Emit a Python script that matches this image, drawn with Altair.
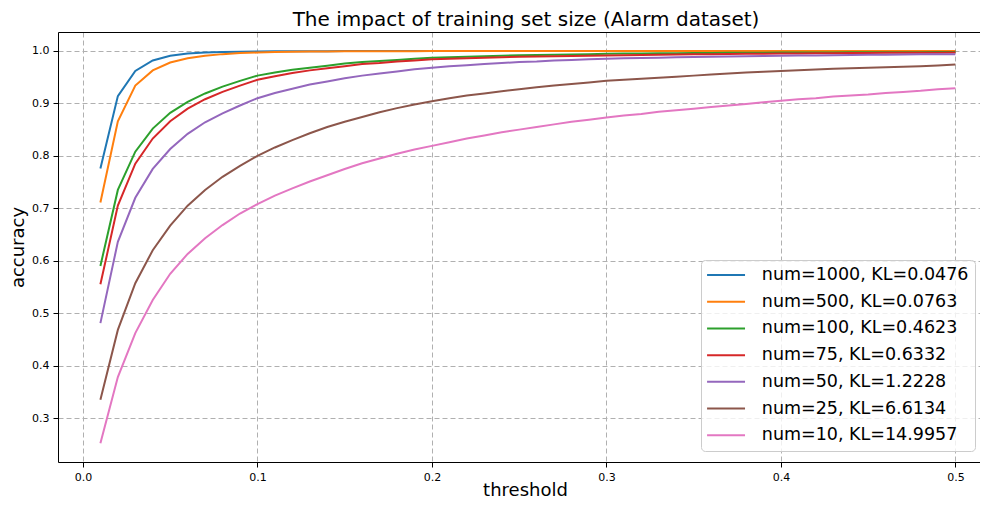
import altair as alt
import pandas as pd

thresholds = [0.01, 0.02, 0.03, 0.04, 0.05, 0.06, 0.07, 0.08, 0.09, 0.10,
              0.11, 0.12, 0.13, 0.14, 0.15, 0.16, 0.17, 0.18, 0.19, 0.20,
              0.21, 0.22, 0.23, 0.24, 0.25, 0.26, 0.27, 0.28, 0.29, 0.30,
              0.31, 0.32, 0.33, 0.34, 0.35, 0.36, 0.37, 0.38, 0.39, 0.40,
              0.41, 0.42, 0.43, 0.44, 0.45, 0.46, 0.47, 0.48, 0.49, 0.50]

labels = ["num=1000, KL=0.0476", "num=500, KL=0.0763", "num=100, KL=0.4623",
          "num=75, KL=0.6332", "num=50, KL=1.2228", "num=25, KL=6.6134",
          "num=10, KL=14.9957"]

colors = ["#1f77b4", "#ff7f0e", "#2ca02c", "#d62728", "#9467bd", "#8c564b", "#e377c2"]

acc_1000 = [0.776, 0.914, 0.962, 0.982, 0.991, 0.995, 0.997, 0.998, 0.9985, 0.999,
            0.9993, 0.9995, 0.9996, 0.9997, 0.9998, 0.9998, 0.9999, 0.9999, 0.9999, 1.0,
            1.0, 1.0, 1.0, 1.0, 1.0, 1.0, 1.0, 1.0, 1.0, 1.0,
            1.0, 1.0, 1.0, 1.0, 1.0, 1.0, 1.0, 1.0, 1.0, 1.0,
            1.0, 1.0, 1.0, 1.0, 1.0, 1.0, 1.0, 1.0, 1.0, 1.0]
acc_500 = [0.711, 0.866, 0.934, 0.963, 0.978, 0.986, 0.991, 0.994, 0.996, 0.997,
           0.998, 0.9985, 0.999, 0.9992, 0.9994, 0.9995, 0.9996, 0.9997, 0.9997, 0.9998,
           0.9998, 0.9998, 0.9999, 0.9999, 0.9999, 0.9999, 0.9999, 1.0, 1.0, 1.0,
           1.0, 1.0, 1.0, 1.0, 1.0, 1.0, 1.0, 1.0, 1.0, 1.0,
           1.0, 1.0, 1.0, 1.0, 1.0, 1.0, 1.0, 1.0, 1.0, 1.0]
acc_100 = [0.590, 0.735, 0.808, 0.852, 0.882, 0.903, 0.919, 0.932, 0.943, 0.953,
           0.959, 0.964, 0.968, 0.972, 0.976, 0.979, 0.981, 0.983, 0.985, 0.987,
           0.988, 0.989, 0.990, 0.991, 0.992, 0.9925, 0.993, 0.9935, 0.994, 0.9945,
           0.995, 0.9953, 0.9956, 0.9958, 0.996, 0.9962, 0.9964, 0.9966, 0.9968, 0.997,
           0.9971, 0.9972, 0.9973, 0.9974, 0.9975, 0.9976, 0.9977, 0.9978, 0.9979, 0.998]
acc_75 = [0.555, 0.705, 0.785, 0.833, 0.866, 0.890, 0.908, 0.922, 0.934, 0.945,
          0.952, 0.958, 0.963, 0.967, 0.971, 0.975, 0.977, 0.980, 0.982, 0.984,
          0.985, 0.986, 0.987, 0.988, 0.989, 0.9895, 0.990, 0.9905, 0.991, 0.9915,
          0.992, 0.9924, 0.9928, 0.9932, 0.9936, 0.994, 0.9943, 0.9946, 0.9949, 0.9952,
          0.9954, 0.9956, 0.9958, 0.996, 0.9962, 0.9964, 0.9966, 0.9967, 0.9968, 0.997]
acc_50 = [0.481, 0.636, 0.720, 0.775, 0.813, 0.842, 0.864, 0.881, 0.896, 0.910,
          0.920, 0.928, 0.936, 0.942, 0.948, 0.953, 0.957, 0.961, 0.965, 0.968,
          0.971, 0.973, 0.975, 0.977, 0.979, 0.980, 0.982, 0.983, 0.984, 0.985,
          0.986, 0.9865, 0.987, 0.988, 0.9885, 0.989, 0.9895, 0.990, 0.9905, 0.991,
          0.9913, 0.9916, 0.992, 0.9923, 0.9926, 0.993, 0.9933, 0.9936, 0.9938, 0.994]
acc_25 = [0.335, 0.468, 0.557, 0.620, 0.667, 0.705, 0.735, 0.760, 0.781, 0.800,
          0.816, 0.830, 0.843, 0.855, 0.865, 0.874, 0.883, 0.891, 0.898, 0.904,
          0.910, 0.915, 0.919, 0.923, 0.927, 0.931, 0.934, 0.937, 0.940, 0.943,
          0.945, 0.947, 0.949, 0.951, 0.953, 0.955, 0.957, 0.959, 0.9605, 0.962,
          0.9633, 0.9646, 0.966, 0.967, 0.968, 0.969, 0.970, 0.971, 0.9725, 0.974]
acc_10 = [0.252, 0.378, 0.462, 0.525, 0.575, 0.613, 0.643, 0.668, 0.690, 0.708,
          0.724, 0.738, 0.751, 0.763, 0.775, 0.786, 0.795, 0.804, 0.812, 0.819,
          0.826, 0.833, 0.839, 0.845, 0.850, 0.855, 0.860, 0.865, 0.869, 0.873,
          0.877, 0.880, 0.884, 0.887, 0.890, 0.893, 0.896, 0.899, 0.902, 0.905,
          0.908, 0.910, 0.913, 0.915, 0.917, 0.920, 0.922, 0.924, 0.927, 0.929]

x_ticks = [0.0, 0.1, 0.2, 0.3, 0.4, 0.5]
y_ticks = [0.3, 0.4, 0.5, 0.6, 0.7, 0.8, 0.9, 1.0]

series = [acc_1000, acc_500, acc_100, acc_75, acc_50, acc_25, acc_10]

rows = []
for lab, vals in zip(labels, series):
    for t, v in zip(thresholds, vals):
        rows.append({"threshold": t, "accuracy": v, "series": lab})
df = pd.DataFrame(rows)

x_scale = alt.Scale(domain=[-0.0143, 0.5141], nice=False, zero=False)
y_scale = alt.Scale(domain=[0.2161, 1.0362], nice=False, zero=False)

lines = alt.Chart(df).mark_line(strokeWidth=2, clip=True).encode(
    x=alt.X("threshold:Q", scale=x_scale,
            axis=alt.Axis(values=x_ticks, format=".1f", title="threshold",
                          titleX=467, titleY=33, titleBaseline="alphabetic",
                          labelPadding=4, gridDash=[5, 3])),
    y=alt.Y("accuracy:Q", scale=y_scale,
            axis=alt.Axis(values=y_ticks, format=".1f", title="accuracy",
                          titlePadding=4, labelPadding=4,
                          gridDash=[5, 3])),
    color=alt.Color("series:N",
                    scale=alt.Scale(domain=labels, range=colors),
                    legend=alt.Legend(title=None, orient="none",
                                      legendX=643, legendY=228,
                                      symbolType="M-4,0L4,0", symbolSize=90,
                                      symbolStrokeWidth=2,
                                      symbolOffset=10, labelOffset=27,
                                      labelFontSize=17.5, labelFont="DejaVu Sans",
                                      labelColor="black", labelLimit=400,
                                      padding=6.3,
                                      strokeColor="#cccccc",
                                      fillColor="rgba(255,255,255,0.8)",
                                      cornerRadius=4, rowPadding=7.7)),
)

top_border = alt.Chart(df).mark_line(opacity=0).encode(
    x=alt.X("threshold:Q", scale=x_scale,
            axis=alt.Axis(orient="top", labels=False, ticks=False, grid=False,
                          title="", domainColor="black")),
    y=alt.Y("accuracy:Q", scale=y_scale),
)

chart = alt.layer(lines, top_border).resolve_axis(x="independent").properties(
    width=922, height=430,
    autosize=alt.AutoSizeParams(type="none"),
    padding={"left": 50, "top": 24, "right": 0, "bottom": 38},
    title=alt.TitleParams("The impact of training set size (Alarm dataset)",
                          font="DejaVu Sans", fontSize=20, fontWeight="normal",
                          color="black", offset=2.5, dx=7),
).configure_view(stroke="transparent").configure_axis(
    labelFont="DejaVu Sans", labelFontSize=11, labelColor="black",
    titleFont="DejaVu Sans", titleFontSize=18, titleFontWeight="normal",
    titleColor="black", domainColor="black", domainWidth=1,
    tickColor="black", tickSize=5, gridColor="#b0b0b0", gridWidth=1,
)

chart.save("out.html", embed_options={"renderer": "svg", "actions": False})
